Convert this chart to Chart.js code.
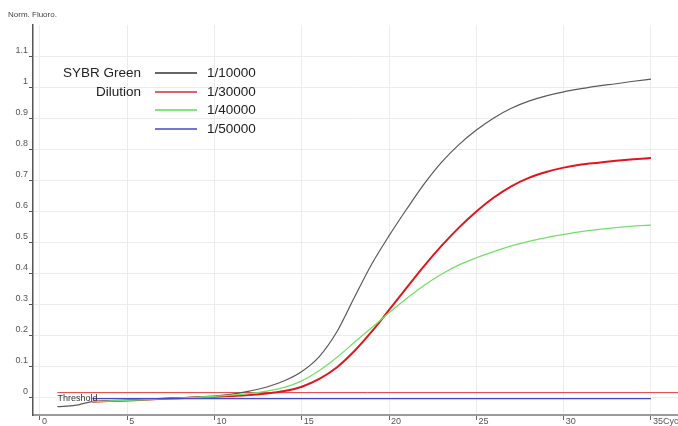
<!DOCTYPE html>
<html>
<head>
<meta charset="utf-8">
<script src="https://cdn.jsdelivr.net/npm/chart.js@4/dist/chart.umd.min.js"></script>
<style>
  html, body { margin: 0; padding: 0; background: #fff; }
  #wrap { width: 678px; height: 426px; position: relative; }
</style>
</head>
<body>
<div id="wrap"><canvas id="c" width="678" height="426"></canvas></div>
<script>
// Amplification curves: normalised fluorescence per cycle
const cyclesLong = [1,2,3,4,5,6,7,8,9,10,11,12,13,14,15,16,17,18,19,20,21,22,23,24,25,26,27,28,29,30,31,32,33,34,35];
const cyclesShort = [3,4,5,6,7,8,9,10,11,12,13,14,15,16,17,18,19,20,21,22,23,24,25,26,27,28,29,30,31,32,33,34,35];

const dil10000 = [-0.028,-0.024,-0.012,-0.010,-0.008,-0.005,-0.002,0.000,0.003,0.006,0.012,0.022,0.035,0.055,0.085,0.133,0.212,0.322,0.430,0.522,0.607,0.688,0.758,0.815,0.862,0.901,0.932,0.955,0.972,0.985,0.995,1.004,1.011,1.019,1.026];
const dil30000 = [-0.012,-0.010,-0.008,-0.006,-0.003,-0.001,0.002,0.004,0.006,0.009,0.014,0.022,0.036,0.061,0.098,0.150,0.213,0.283,0.354,0.424,0.489,0.548,0.600,0.645,0.681,0.708,0.727,0.741,0.751,0.757,0.763,0.768,0.772];
const dil40000 = [-0.012,-0.010,-0.008,-0.006,-0.003,-0.001,0.002,0.005,0.009,0.014,0.022,0.034,0.055,0.088,0.130,0.178,0.226,0.274,0.320,0.362,0.398,0.428,0.451,0.471,0.489,0.504,0.516,0.526,0.535,0.542,0.548,0.553,0.556];
const dil50000 = [-0.002,-0.002,-0.002,-0.002,-0.002,-0.002,-0.002,-0.002,-0.002,-0.002,-0.002,-0.002,-0.002,-0.002,-0.002,-0.002,-0.002,-0.002,-0.002,-0.002,-0.002,-0.002,-0.002,-0.002,-0.002,-0.002,-0.002,-0.002,-0.002,-0.002,-0.002,-0.002,-0.002];

const seriesNames = ['1/10000','1/30000','1/40000','1/50000'];
const thresholdValue = 0.017;
const thresholdCycles = [1, 36.55];

const xTicks = [0,5,10,15,20,25,30,35];
const xTickLabels = ['0','5','10','15','20','25','30','35Cycle'];
const yTicks = [0,0.1,0.2,0.3,0.4,0.5,0.6,0.7,0.8,0.9,1,1.1];
const yTickLabels = ['0','0.1','0.2','0.3','0.4','0.5','0.6','0.7','0.8','0.9','1','1.1'];

const colors = ['#5a5a5a','#e3141c','#72e066','#4848c8'];
const legendColors = ['#333333','#cc3333','#55dd55','#4444cc'];
const widths = [1.2, 2, 1.3, 1.3];

function pts(xs, ys) { return xs.map((x, i) => ({ x: x, y: ys[i] })); }

const curveData = [
  pts(cyclesLong, dil10000),
  pts(cyclesShort, dil30000),
  pts(cyclesShort, dil40000),
  pts(cyclesShort, dil50000)
];

const datasets = [{
  label: 'Threshold',
  data: thresholdCycles.map(x => ({ x: x, y: thresholdValue })),
  borderColor: '#e23a3a',
  borderWidth: 1,
  pointRadius: 0,
  tension: 0,
  order: 5
}];
// draw the faintest curves first so the strong ones sit on top
[3, 2, 0, 1].forEach(i => {
  datasets.push({
    label: seriesNames[i],
    data: curveData[i],
    borderColor: colors[i],
    borderWidth: widths[i],
    pointRadius: 0,
    cubicInterpolationMode: 'monotone',
    fill: false
  });
});

const overlay = {
  id: 'overlay',
  afterDatasetsDraw(chart) {
    const ctx = chart.ctx;
    ctx.save();
    // axis caption
    ctx.fillStyle = '#444';
    ctx.font = '8px "Liberation Sans", Arial, sans-serif';
    ctx.textBaseline = 'middle';
    ctx.textAlign = 'left';
    ctx.fillText('Norm. Fluoro.', 8, 15);

    // threshold caption
    const ys = chart.scales.y, xs = chart.scales.x;
    ctx.font = '9px "Liberation Sans", Arial, sans-serif';
    ctx.fillStyle = '#333';
    ctx.fillText('Threshold', xs.getPixelForValue(thresholdCycles[0]), ys.getPixelForValue(thresholdValue) + 6);

    // legend block
    ctx.font = '13.5px "Liberation Sans", Arial, sans-serif';
    ctx.fillStyle = '#222';
    ctx.textAlign = 'right';
    ctx.fillText('SYBR Green', 141, 73);
    ctx.fillText('Dilution', 141, 92);
    const rows = [73, 92, 110, 129];
    ctx.textAlign = 'left';
    for (let i = 0; i < 4; i++) {
      ctx.strokeStyle = legendColors[i];
      ctx.lineWidth = 1.5;
      ctx.beginPath();
      ctx.moveTo(155, rows[i]);
      ctx.lineTo(197, rows[i]);
      ctx.stroke();
      ctx.fillStyle = '#222';
      ctx.fillText(seriesNames[i], 207, rows[i]);
    }
    ctx.restore();
  }
};

new Chart(document.getElementById('c'), {
  type: 'line',
  data: { datasets: datasets },
  options: {
    responsive: false,
    animation: false,
    layout: { padding: { top: 25, left: 0, right: 0, bottom: 0 } },
    plugins: { legend: { display: false }, tooltip: { enabled: false } },
    scales: {
      x: {
        type: 'linear',
        min: -0.4,
        max: 36.55,
        afterBuildTicks: s => { s.ticks = xTicks.map(v => ({ value: v })); },
        afterFit: s => { s.height = 11; s.paddingLeft = 0; s.paddingRight = 0; },
        ticks: {
          align: 'start',
          labelOffset: 2,
          padding: -4,
          maxRotation: 0,
          autoSkip: false,
          color: '#555',
          font: { size: 9, family: '"Liberation Sans", Arial, sans-serif' },
          callback: (v) => { const k = xTicks.indexOf(v); return k >= 0 ? xTickLabels[k] : ''; }
        },
        grid: { color: '#ececec', lineWidth: 1, tickLength: 5, tickColor: '#666', drawTicks: true },
        border: { color: '#9a9a9a', width: 2 }
      },
      y: {
        type: 'linear',
        min: -0.055,
        max: 1.2,
        afterBuildTicks: s => { s.ticks = yTicks.map(v => ({ value: v })); },
        afterFit: s => { s.width = 33; s.paddingTop = 0; s.paddingBottom = 0; },
        ticks: {
          padding: 1,
          labelOffset: -6,
          color: '#555',
          font: { size: 9, family: '"Liberation Sans", Arial, sans-serif' },
          callback: (v) => { const k = yTicks.findIndex(t => Math.abs(t - v) < 1e-6); return k >= 0 ? yTickLabels[k] : ''; }
        },
        grid: { color: '#ececec', lineWidth: 1, tickLength: 4, tickColor: '#555', drawTicks: true },
        border: { color: '#555', width: 1.5 }
      }
    }
  },
  plugins: [overlay]
});
</script>
</body>
</html>
